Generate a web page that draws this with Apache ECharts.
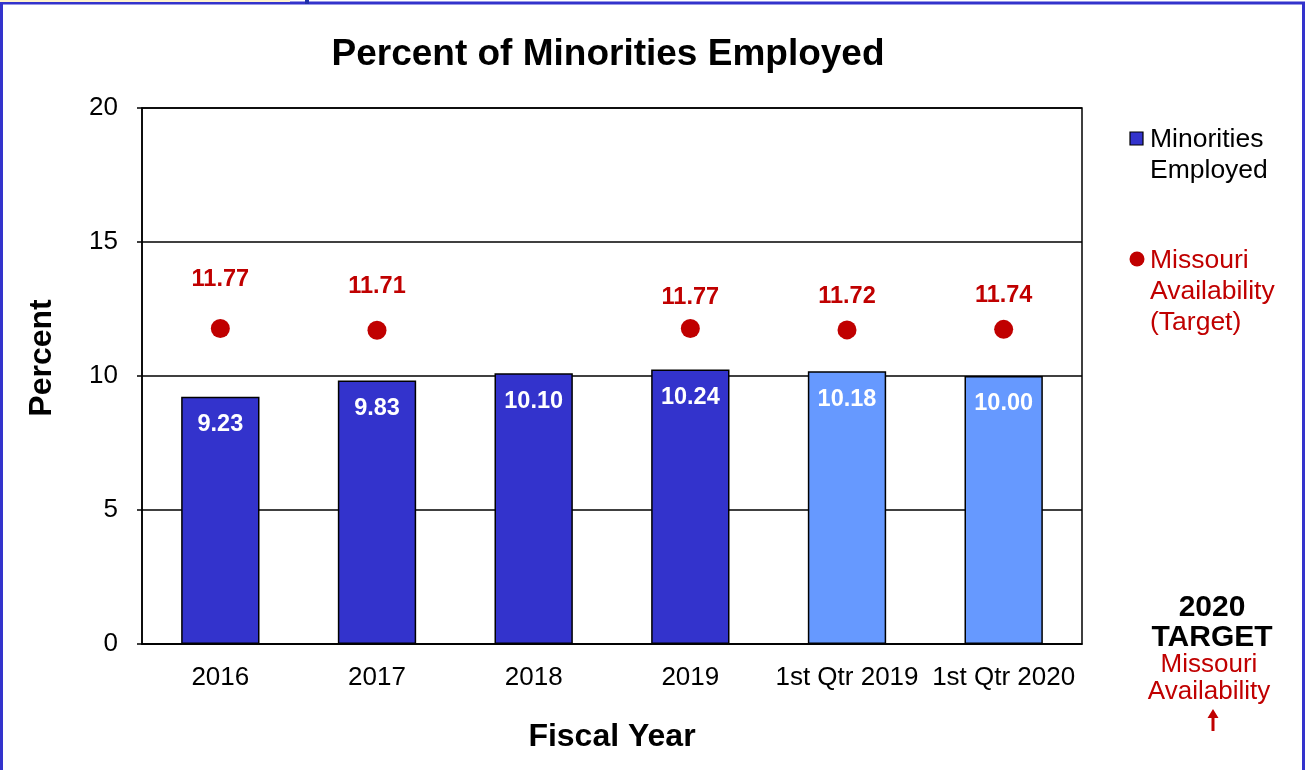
<!DOCTYPE html>
<html>
<head>
<meta charset="utf-8">
<script src="https://cdn.jsdelivr.net/npm/echarts@6/dist/echarts.min.js"></script>
<style>
html,body{margin:0;padding:0;background:#fff;}
#chart{width:1306px;height:770px;}
</style>
</head>
<body>
<div id="chart"></div>
<script>
const categories = ['2016', '2017', '2018', '2019', '1st Qtr 2019', '1st Qtr 2020'];
const minoritiesEmployed = [9.23, 9.83, 10.10, 10.24, 10.18, 10.00];
const missouriAvailability = [11.77, 11.71, null, 11.77, 11.72, 11.74];
const yTicks = [0, 5, 10, 15, 20];

// styling (not data)
const barColors = ['#3333CC', '#3333CC', '#3333CC', '#3333CC', '#6699FF', '#6699FF'];
const dotLabelDistance = [28, 22, 0, 10, 12, 12];

const font = '"Liberation Sans", Arial, sans-serif';
const chart = echarts.init(document.getElementById('chart'));

const option = {
  backgroundColor: '#ffffff',
  animation: false,
  title: {
    text: 'Percent of Minorities Employed',
    left: 603, top: 31, textAlign: 'center',
    textStyle: { fontFamily: font, fontSize: 37, fontWeight: 'bold', color: '#000' }
  },
  grid: {
    left: 142, right: 224, top: 108, bottom: 126,
    show: true, borderColor: '#000', borderWidth: 1.5, backgroundColor: 'transparent'
  },
  xAxis: {
    type: 'category',
    data: categories,
    name: 'Fiscal Year',
    nameLocation: 'middle',
    nameGap: 77,
    nameTextStyle: { fontFamily: font, fontSize: 32, fontWeight: 'bold', color: '#000' },
    axisLine: { show: true, lineStyle: { color: '#000', width: 1.5 } },
    axisTick: { show: false },
    axisLabel: { fontFamily: font, fontSize: 26, color: '#000', margin: 21, interval: 0 }
  },
  yAxis: {
    type: 'value',
    min: yTicks[0], max: yTicks[yTicks.length - 1], interval: 5,
    name: 'Percent',
    nameLocation: 'middle',
    nameGap: 84,
    nameTextStyle: { fontFamily: font, fontSize: 32, fontWeight: 'bold', color: '#000', padding: [0, 0, 0, 36] },
    axisLine: { show: true, lineStyle: { color: '#000', width: 1.5 } },
    axisTick: { show: true, length: 5, lineStyle: { color: '#000', width: 1.5 } },
    axisLabel: { fontFamily: font, fontSize: 26, color: '#000', margin: 24, padding: [4, 0, 0, 0] },
    splitLine: { show: true, lineStyle: { color: '#000', width: 1.5 } }
  },
  series: [
    {
      name: 'Minorities Employed',
      type: 'bar',
      barWidth: '50%',
      data: minoritiesEmployed.map((v, i) => ({ value: v, itemStyle: { color: barColors[i] } })),
      itemStyle: { color: '#3333CC', borderColor: '#000', borderWidth: 1.5 },
      label: {
        show: true, position: 'insideTop', distance: 16,
        formatter: p => p.value.toFixed(2),
        fontFamily: font, fontSize: 23.5, fontWeight: 'bold', color: '#fff'
      },
      z: 2
    },
    {
      name: 'Missouri Availability (Target)',
      type: 'scatter',
      symbol: 'circle',
      symbolSize: 19,
      data: missouriAvailability.map((v, i) => ({
        value: v,
        label: { distance: dotLabelDistance[i] }
      })),
      itemStyle: { color: '#C00000', opacity: 1 },
      label: {
        show: true, position: 'top',
        formatter: p => p.value == null ? '' : p.value.toFixed(2),
        fontFamily: font, fontSize: 23.5, fontWeight: 'bold', color: '#C00000'
      },
      z: 3
    }
  ],
  graphic: [
    // outer frame
    { type: 'rect', shape: { x: 1.5, y: 3, width: 1302, height: 800 }, style: { fill: 'none', stroke: '#3333CC', lineWidth: 3 }, silent: true },
    { type: 'rect', shape: { x: 0, y: 0, width: 290, height: 2 }, style: { fill: '#FFF2CC' }, silent: true },
    { type: 'rect', shape: { x: 305, y: 0, width: 4, height: 4 }, style: { fill: '#1F2FA8' }, silent: true },
    // legend
    { type: 'rect', shape: { x: 1130, y: 132, width: 13, height: 13 }, style: { fill: '#3333CC', stroke: '#000', lineWidth: 1.2 } },
    { type: 'text', left: 1150, top: 124, style: { text: 'Minorities\nEmployed', font: '26.5px "Liberation Sans", Arial, sans-serif', fill: '#000', lineHeight: 31 } },
    { type: 'circle', shape: { cx: 1137, cy: 259, r: 7.5 }, style: { fill: '#C00000' } },
    { type: 'text', left: 1150, top: 245, style: { text: 'Missouri\nAvailability\n(Target)', font: '26.5px "Liberation Sans", Arial, sans-serif', fill: '#C00000', lineHeight: 31 } },
    // 2020 target note
    { type: 'text', x: 1212, y: 593, style: { text: '2020\nTARGET', align: 'center', font: '900 30px "Liberation Sans", Arial, sans-serif', fill: '#000', lineHeight: 30 } },
    { type: 'text', x: 1209, y: 651, style: { text: 'Missouri\nAvailability', align: 'center', font: '26px "Liberation Sans", Arial, sans-serif', fill: '#C00000', lineHeight: 27 } },
    { type: 'polygon', shape: { points: [[1213, 709], [1207.5, 718], [1211.5, 718], [1211.5, 731], [1214.5, 731], [1214.5, 718], [1218.5, 718]] }, style: { fill: '#C00000' } }
  ]
};
chart.setOption(option);
</script>
</body>
</html>
